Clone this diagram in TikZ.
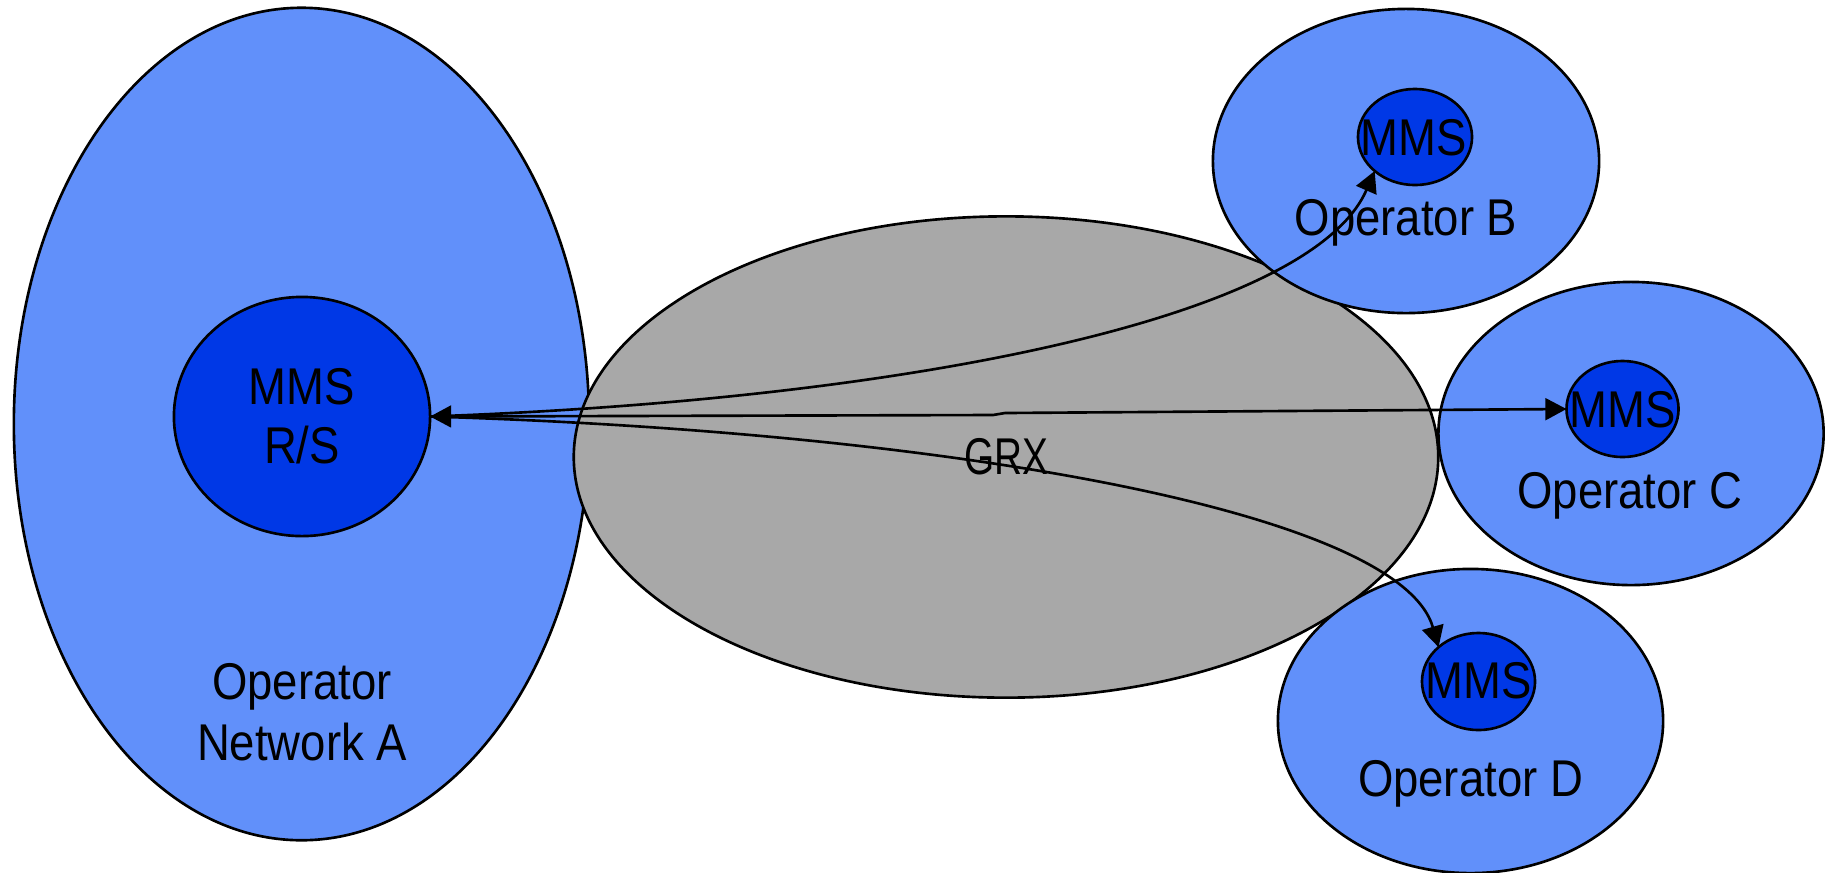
\documentclass[tikz,border=0pt]{standalone}
\usepackage{fontspec}
\setmainfont{Liberation Sans}[FakeStretch=0.88]
\newfontfamily\grxfont{Liberation Sans}[FakeStretch=0.75]
\usetikzlibrary{shapes.geometric,arrows.meta}
\definecolor{lightnet}{HTML}{6190FA}
\definecolor{darkmms}{HTML}{0038E6}
\definecolor{grxgray}{HTML}{A8A8A8}
\tikzset{
  netell/.style={ellipse,draw=black,line width=0.75pt,fill=lightnet,inner sep=0pt,outer sep=0pt},
  mmsell/.style={ellipse,draw=black,line width=0.75pt,fill=darkmms,inner sep=0pt,outer sep=0pt},
  grxell/.style={ellipse,draw=black,line width=0.75pt,fill=grxgray,inner sep=0pt,outer sep=0pt},
  lbl/.style={anchor=base,inner sep=0pt,font=\fontsize{14.7}{16.4}\selectfont},
  link/.style={line width=0.75pt,-{Triangle[length=6pt,width=6.2pt]}},
  biglink/.style={line width=0.75pt,{Triangle[length=6pt,width=6.2pt]}-{Triangle[length=6pt,width=6.2pt]}}
}
\begin{document}
\begin{tikzpicture}[x=0.01cm,y=-0.01cm]
\useasboundingbox (0,0) rectangle (1831,872);
% networks
\node[netell,minimum width=5.75cm,minimum height=8.32cm] (netA) at (301.5,424) {};
\node[mmsell,minimum width=2.56cm,minimum height=2.39cm] (rs) at (302,416.5) {};
\node[grxell,minimum width=8.64cm,minimum height=4.81cm] (grx) at (1006,457) {};
\node[netell,minimum width=3.86cm,minimum height=3.04cm] (netB) at (1406,161) {};
\node[netell,minimum width=3.85cm,minimum height=3.03cm] (netC) at (1631,433.5) {};
\node[netell,minimum width=3.85cm,minimum height=3.04cm] (netD) at (1470.5,721) {};
\node[mmsell,minimum width=1.14cm,minimum height=0.96cm] (mmsB) at (1415,137) {};
\node[mmsell,minimum width=1.12cm,minimum height=0.96cm] (mmsC) at (1622.5,409) {};
\node[mmsell,minimum width=1.13cm,minimum height=0.97cm] (mmsD) at (1478.5,681.5) {};
% connectors
\coordinate (jogL) at (993,415);
\coordinate (jogR) at (1005,413);
\draw[biglink] (rs.east) -- (jogL) -- (jogR) -- (mmsC.west);
\draw[link] (rs.east) .. controls (900,400) and (1310,320) .. (mmsB.south west);
\draw[link] (rs.east) .. controls (950,432) and (1400,512) .. (mmsD.north west);
% labels
\node[lbl] (tMMSA) at (302,404) {MMS};
\node[lbl] (tRS) at (302,463) {R/S};
\node[lbl] (tOpA) at (302,699) {Operator};
\node[lbl] (tNetA) at (302,760) {Network A};
\node[lbl,font=\fontsize{14.7}{16.4}\grxfont] (tGRX) at (1006,474) {GRX};
\node[lbl] (tMMSB) at (1414,155) {MMS};
\node[lbl] (tOpB) at (1406,235) {Operator B};
\node[lbl] (tMMSC) at (1623,427) {MMS};
\node[lbl] (tOpC) at (1630,508) {Operator C};
\node[lbl] (tMMSD) at (1478.5,698) {MMS};
\node[lbl] (tOpD) at (1470.5,796) {Operator D};
\end{tikzpicture}
\end{document}
